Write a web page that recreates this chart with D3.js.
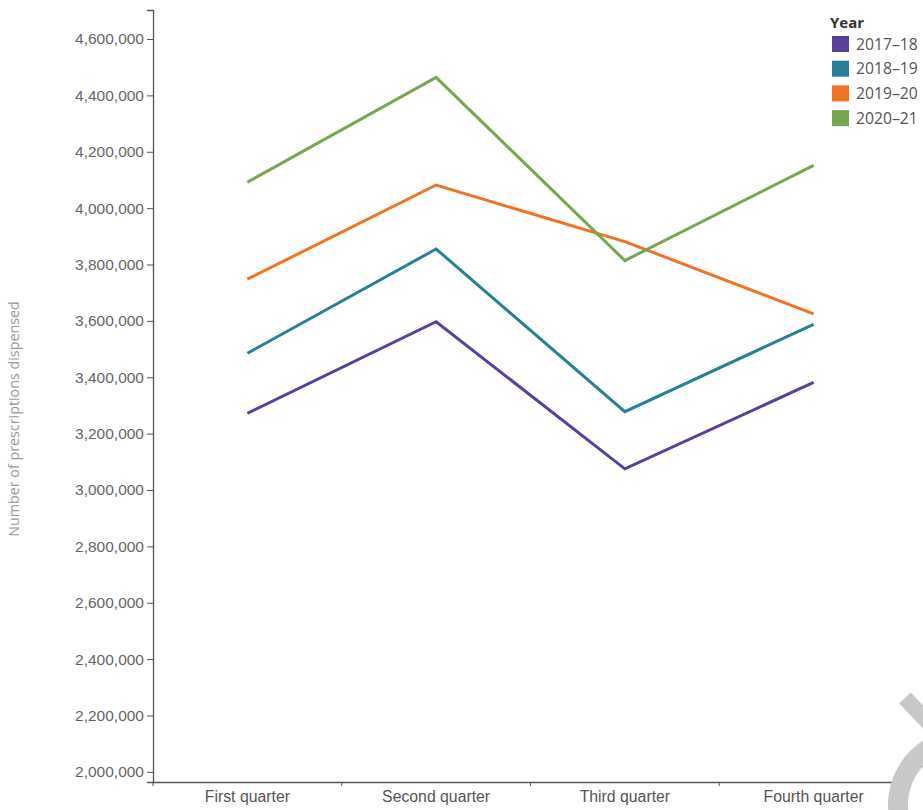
<!DOCTYPE html>
<html><head><meta charset="utf-8">
<script src="https://cdn.jsdelivr.net/npm/d3@7"></script>
<style>
html,body{margin:0;padding:0;background:#fff;}
svg{display:block;font-family:"Open Sans","Noto Sans",sans-serif;}
</style></head>
<body><svg id="chart" width="923" height="810"></svg>
<script>
const quarters = ["First quarter","Second quarter","Third quarter","Fourth quarter"];
const years = ["2017\u201318","2018\u201319","2019\u201320","2020\u201321"];
const colors = ["#5b3f9c","#297f95","#f07224","#76a74f"];
const v2017 = [3272000, 3597000, 3075000, 3382000];
const v2018 = [3485000, 3855000, 3278000, 3588000];
const v2019 = [3748000, 4082000, 3881000, 3625000];
const v2020 = [4092000, 4464000, 3814000, 4152000];
const yTicks = [2000000,2200000,2400000,2600000,2800000,3000000,3200000,3400000,3600000,3800000,4000000,4200000,4400000,4600000];
const series = [v2017, v2018, v2019, v2020];

const svg = d3.select("#chart");
const x = d3.scaleBand().domain(quarters).range([153, 908]).padding(0);
const y = d3.scaleLinear().domain([1964000, 4703000]).range([782, 10]);
const fmt = d3.format(",");

// y axis
const ya = svg.append("g").attr("transform","translate(153,0)")
  .call(d3.axisLeft(y).tickValues(yTicks).tickFormat(fmt).tickSize(6).tickPadding(3));
ya.select(".domain").attr("stroke","#555").attr("stroke-width",1.3);
ya.selectAll(".tick line").attr("stroke","#555");
ya.selectAll(".tick text").attr("fill","#666").attr("font-size","15.5px");

// x axis
const xa = svg.append("g").attr("transform","translate(0,782)")
  .call(d3.axisBottom(x).tickSize(0).tickPadding(9));
xa.select(".domain").attr("stroke","#555").attr("stroke-width",1.3);
xa.selectAll(".tick text").attr("fill","#555").attr("font-size","15.8px");
const bounds = quarters.map(q => x(q)).concat([x(quarters[3]) + x.bandwidth()]);
xa.selectAll(".btick").data(bounds).enter().append("line")
  .attr("x1", d => d).attr("x2", d => d).attr("y1", 0).attr("y2", 4)
  .attr("stroke","#555");

// y title
svg.append("text").attr("transform","translate(19,419) rotate(-90)")
  .attr("text-anchor","middle").attr("fill","#999").attr("font-size","14.3px")
  .text("Number of prescriptions dispensed");

// lines
const line = d3.line().x((d,i) => x(quarters[i]) + x.bandwidth()/2).y(d => y(d));
series.forEach((s, k) => {
  svg.append("path").datum(s).attr("d", line).attr("fill","none")
    .attr("stroke", colors[k]).attr("stroke-width", 3).attr("stroke-linejoin","miter");
});

// legend
const lg = svg.append("g");
lg.append("text").attr("x",830).attr("y",28).attr("font-size","15px").attr("font-weight","bold").attr("fill","#333").text("Year");
years.forEach((yr, i) => {
  const cy = 44 + i*24.7;
  lg.append("rect").attr("x",832).attr("y",cy-8).attr("width",17).attr("height",16).attr("fill",colors[i]);
  lg.append("text").attr("x",856).attr("y",cy+5.5).attr("font-size","15.7px").attr("fill","#555").text(yr);
});

// watermark
svg.append("line").attr("x1",905).attr("y1",698).attr("x2",945).attr("y2",740)
  .attr("stroke","#c8c8c8").attr("stroke-width",16);
svg.append("circle").attr("cx",965).attr("cy",805).attr("r",67)
  .attr("fill","none").attr("stroke","#c8c8c8").attr("stroke-width",20);
</script></body></html>
